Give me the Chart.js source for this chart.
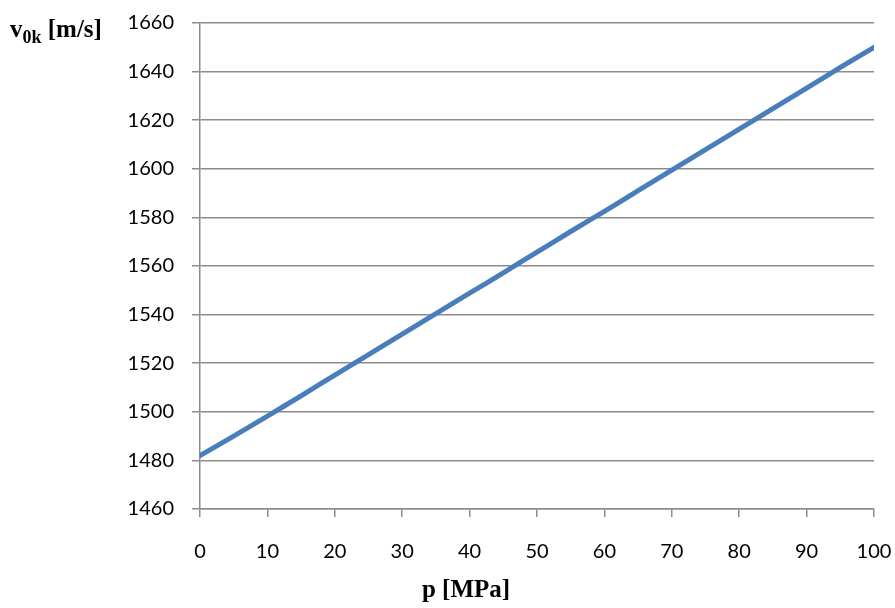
<!DOCTYPE html>
<html>
<head>
<meta charset="utf-8">
<script src="https://cdn.jsdelivr.net/npm/chart.js@4"></script>
<style>
  html, body { margin: 0; padding: 0; background: #fff; }
  #wrap { position: relative; width: 895px; height: 608px; }
  canvas { position: absolute; left: 0; top: 0; }
  .axis-title {
    position: absolute;
    font-family: "Liberation Serif", "DejaVu Serif", serif;
    font-weight: bold;
    color: #000;
    white-space: nowrap;
  }
  #y-title { left: 10px; top: 16px; font-size: 25px; line-height: 25px; }
  #y-title sub { font-size: 18px; vertical-align: -6px; line-height: 0; }
  #x-title { left: 366px; width: 200px; text-align: center; top: 576px; font-size: 25px; line-height: 25px; }
</style>
</head>
<body>
<div id="wrap">
  <canvas id="chart" width="895" height="608"></canvas>
  <div id="y-title" class="axis-title">v<sub>0k</sub> [m/s]</div>
  <div id="x-title" class="axis-title">p [MPa]</div>
</div>
<script>
  // pressure p [MPa] and sound speed v0k [m/s]
  const pressure = [0, 5, 10, 15, 20, 25, 30, 35, 40, 45, 50, 55, 60, 65, 70, 75, 80, 85, 90, 95, 100];
  const speed = [1482, 1490, 1498.2, 1506.6, 1515.1, 1523.5, 1532, 1540.4, 1548.8, 1557.2, 1565.7,
                 1574.2, 1582.5, 1591, 1599.5, 1607.9, 1616.3, 1624.8, 1633.2, 1641.7, 1650];

  const xMin = 0, xMax = 100, xStep = 10;
  const yMin = 1460, yMax = 1660, yStep = 20;

  const GRID = "#8c8c8c";
  const tickFont = { family: "Lato, 'Open Sans', sans-serif", size: 20 };

  const points = pressure.map((p, i) => ({ x: p, y: speed[i] }));

  // pin the plot area: left 200, right 874, top 23, bottom 509
  function fitX(s) {
    s.height = 99;
    s.paddingLeft = 0;
    s.paddingRight = 0;
  }
  function fitY(s) {
    s.width = 200;
    s.paddingTop = 0;
    s.paddingBottom = 0;
  }

  new Chart(document.getElementById("chart"), {
    type: "line",
    data: {
      datasets: [{
        data: points,
        borderColor: "#4a7ebb",
        borderWidth: 5,
        borderCapStyle: "round",
        borderJoinStyle: "round",
        pointRadius: 0,
        tension: 0.2,
        fill: false,
      }],
    },
    options: {
      responsive: false,
      animation: false,
      layout: { padding: { top: 23, right: 21, left: 0, bottom: 0 } },
      plugins: {
        legend: { display: false },
        tooltip: { enabled: false },
      },
      scales: {
        x: {
          type: "linear",
          min: xMin,
          max: xMax,
          ticks: { stepSize: xStep, color: "#000", font: tickFont, padding: 23, maxRotation: 0 },
          grid: { drawOnChartArea: false, drawTicks: true, tickLength: 8, color: GRID, lineWidth: 1.5 },
          border: { color: GRID, width: 1.5 },
          afterFit: fitX,
        },
        y: {
          min: yMin,
          max: yMax,
          ticks: {
            stepSize: yStep,
            color: "#000",
            font: tickFont,
            padding: 18,
            callback: (v) => String(v),
          },
          grid: { drawOnChartArea: true, drawTicks: true, tickLength: 8, color: GRID, lineWidth: 1.5 },
          border: { color: GRID, width: 1.5 },
          afterFit: fitY,
        },
      },
    },
  });
</script>
</body>
</html>
